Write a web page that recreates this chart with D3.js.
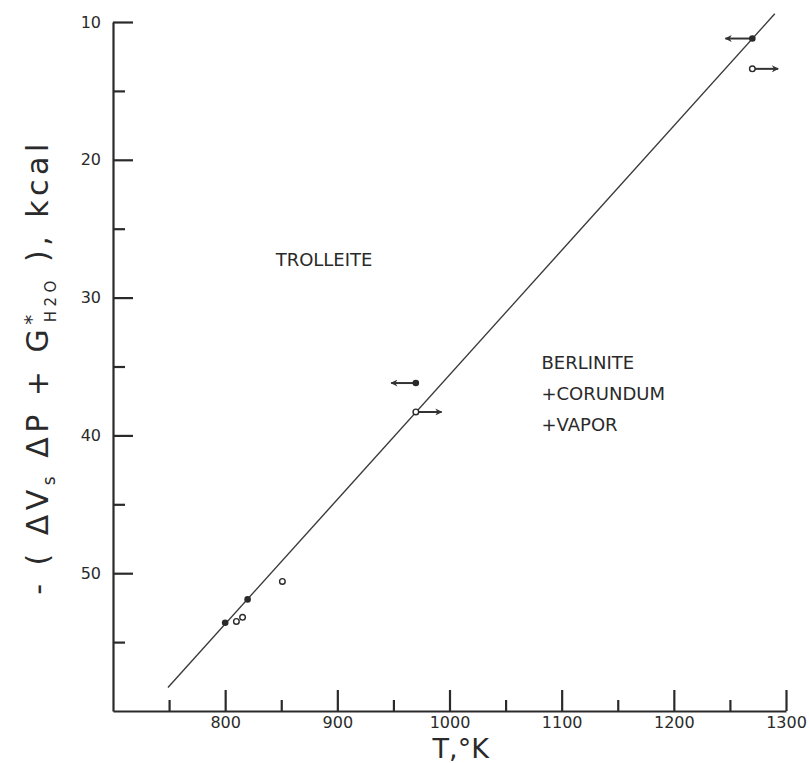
<!DOCTYPE html>
<html>
<head>
<meta charset="utf-8">
<script src="https://cdn.jsdelivr.net/npm/d3@7"></script>
<style>
  body { margin: 0; background: #fff; }
  text { font-family: "DejaVu Sans", sans-serif; fill: #2a2a2a; }
</style>
</head>
<body>
<div id="chart"></div>
<script>
// Data
var majorX = [800, 900, 1000, 1100, 1200, 1300];
var minorX = [750, 850, 950, 1050, 1150, 1250];
var majorY = [10, 20, 30, 40, 50];
var minorY = [15, 25, 35, 45, 55];

// boundary line
var lineT = [749, 1290];
var lineG = [58.3, 9.4];

// filled symbols
var filledT = [800, 820, 970, 1270];
var filledG = [53.6, 51.9, 36.2, 11.2];

// open symbols
var openT = [810, 815.5, 851, 970, 1270];
var openG = [53.5, 53.2, 50.6, 38.3, 13.4];

// reversal arrows (start -> end temperature)
var arrowFromT = [1270, 1270, 970, 970];
var arrowToT = [1246, 1293, 948, 993];
var arrowG = [11.2, 13.4, 36.2, 38.3];

var margin = { top: 22, right: 24, bottom: 52, left: 113 },
    width = 810 - margin.left - margin.right,
    height = 763 - margin.top - margin.bottom;

var svg = d3.select("#chart")
  .append("svg")
    .attr("width", 810)
    .attr("height", 763)
  .append("g")
    .attr("transform", "translate(" + margin.left + "," + margin.top + ")");

var x = d3.scaleLinear().domain([700, 1300]).range([0, width]);
var y = d3.scaleLinear().domain([10, 60]).range([0, height]);

// arrow head
svg.append("defs").append("marker")
    .attr("id", "head")
    .attr("viewBox", "0 0 10 10")
    .attr("refX", 9).attr("refY", 5)
    .attr("markerWidth", 9).attr("markerHeight", 7)
    .attr("markerUnits", "userSpaceOnUse")
    .attr("orient", "auto")
  .append("path")
    .attr("d", "M0,0L10,5L0,10L3,5Z")
    .style("fill", "#333");

// X axis, ticks pointing up
svg.append("g")
    .attr("transform", "translate(0," + height + ")")
    .call(d3.axisBottom(x).tickValues(majorX).tickFormat(d3.format("d"))
      .tickSizeInner(-21).tickSizeOuter(0).tickPadding(6));
svg.append("g")
    .attr("transform", "translate(0," + height + ")")
    .call(d3.axisBottom(x).tickValues(minorX).tickSizeInner(-11).tickSizeOuter(0).tickFormat(""))
    .select(".domain").remove();

// Y axis, ticks pointing right
svg.append("g")
    .call(d3.axisLeft(y).tickValues(majorY).tickSizeInner(-20).tickSizeOuter(0).tickPadding(12));
svg.append("g")
    .call(d3.axisLeft(y).tickValues(minorY).tickSizeInner(-12).tickSizeOuter(0).tickFormat(""))
    .select(".domain").remove();

svg.selectAll(".domain, .tick line")
    .style("stroke", "#2a2a2a")
    .style("stroke-width", 2.2);
svg.selectAll(".tick text")
    .style("font-size", "16px")
    .style("fill", "#2a2a2a");

// boundary line
var line = d3.line()
    .x(function (d) { return x(d[0]); })
    .y(function (d) { return y(d[1]); });
svg.append("path")
    .datum(d3.zip(lineT, lineG))
    .attr("d", line)
    .style("fill", "none")
    .style("stroke", "#3a3a3a")
    .style("stroke-width", 1.4);

// arrows
svg.selectAll(".arrow")
  .data(d3.range(arrowG.length))
  .enter()
  .append("line")
    .attr("class", "arrow")
    .attr("x1", function (i) { return x(arrowFromT[i]); })
    .attr("x2", function (i) { return x(arrowToT[i]); })
    .attr("y1", function (i) { return y(arrowG[i]); })
    .attr("y2", function (i) { return y(arrowG[i]); })
    .style("stroke", "#333")
    .style("stroke-width", 2)
    .attr("marker-end", "url(#head)");

// filled symbols
svg.selectAll(".filled")
  .data(d3.zip(filledT, filledG))
  .enter()
  .append("circle")
    .attr("class", "filled")
    .attr("cx", function (d) { return x(d[0]); })
    .attr("cy", function (d) { return y(d[1]); })
    .attr("r", 3.3)
    .style("fill", "#2a2a2a");

// open symbols
svg.selectAll(".open")
  .data(d3.zip(openT, openG))
  .enter()
  .append("circle")
    .attr("class", "open")
    .attr("cx", function (d) { return x(d[0]); })
    .attr("cy", function (d) { return y(d[1]); })
    .attr("r", 2.8)
    .style("fill", "#fff")
    .style("stroke", "#2a2a2a")
    .style("stroke-width", 1.4);

// field labels
svg.append("text")
    .attr("x", x(845)).attr("y", y(27.7))
    .style("font-size", "18px")
    .text("TROLLEITE");

var berl = ["BERLINITE", "+CORUNDUM", "+VAPOR"];
svg.selectAll(".field")
  .data(berl)
  .enter()
  .append("text")
    .attr("class", "field")
    .attr("x", x(1082))
    .attr("y", function (d, i) { return y(35.2) + i * 31; })
    .style("font-size", "18px")
    .text(function (d) { return d; });

// X axis label
svg.append("text")
    .attr("x", x(1010))
    .attr("y", height + 47)
    .style("text-anchor", "middle")
    .style("font-size", "27px")
    .text("T,°K");

// Y axis label
var yl = svg.append("text")
    .attr("transform", "translate(" + (-65) + "," + 345 + ") rotate(-90)")
    .style("text-anchor", "middle")
    .style("font-size", "30px")
    .style("letter-spacing", "4.5px");
yl.append("tspan").text("- ( \u0394V");
yl.append("tspan").attr("font-size", "17px").attr("dy", 7).text("s");
yl.append("tspan").attr("dy", -7).text(" \u0394P + G");
yl.append("tspan").attr("font-size", "20px").attr("dy", -10).text("*");
yl.append("tspan").attr("font-size", "15px").attr("dx", -12).attr("dy", 18).text("H2O");
yl.append("tspan").attr("dy", -8).text(" ), kcal");
</script>
</body>
</html>
